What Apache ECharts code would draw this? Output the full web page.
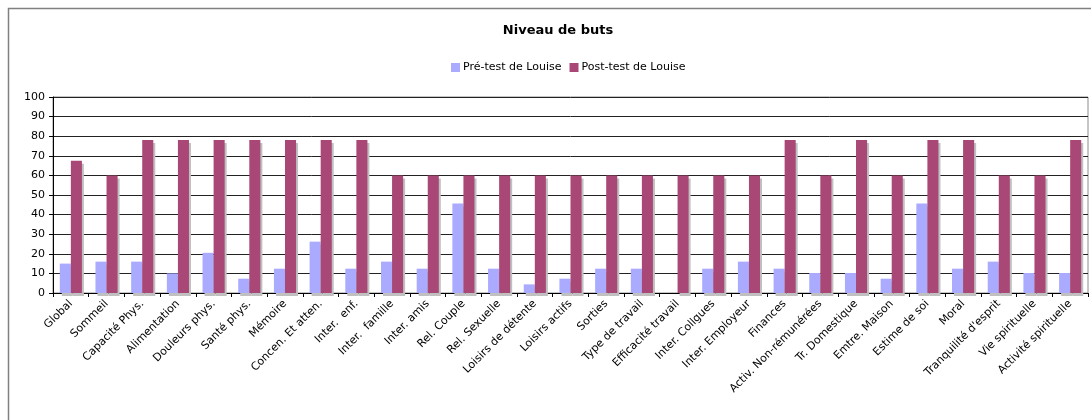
<!DOCTYPE html>
<html>
<head>
<meta charset="utf-8">
<script src="https://cdn.jsdelivr.net/npm/echarts@6/dist/echarts.min.js"></script>
<style>
  html, body { margin: 0; padding: 0; background: #fff; }
  #box01 { width: 1091px; height: 420px; }
</style>
</head>
<body>
<div id="box01"></div>
<script>
// categories (x axis)
var categories = ['Global', 'Sommeil', 'Capacité Phys.', 'Alimentation', 'Douleurs phys.', 'Santé phys.',
    'Mémoire', 'Concen. Et atten.', 'Inter.  enf.', 'Inter.  famille', 'Inter. amis', 'Rel. Couple',
    'Rel. Sexuelle', 'Loisirs de détente', 'Loisirs actifs', 'Sorties', 'Type de travail',
    'Efficacité travail', 'Inter. Collgues', 'Inter. Employeur', 'Finances', 'Activ. Non-rémunérées',
    'Tr. Domestique', 'Emtre. Maison', 'Estime de soi', 'Moral', "Tranquilité d'esprit",
    'Vie spirituelle', 'Activité spirituelle'];

// valeurs
var preTest = [15, 16, 16, 10, 20.5, 7.3, 12.4, 26.2, 12.4, 16, 12.4, 45.6, 12.4, 4.4, 7.3,
    12.4, 12.4, 0, 12.4, 16, 12.4, 10.2, 10.2, 7.3, 45.6, 12.4, 16, 10.2, 10.2];
var postTest = [67.5, 60, 78, 78, 78, 78, 78, 78, 78, 60, 60, 60, 60, 60, 60,
    60, 60, 60, 60, 60, 78, 60, 78, 60, 78, 78, 60, 60, 78];

var seriesNames = ['Pré-test de Louise', 'Post-test de Louise'];
var yTicks = [0, 100, 10]; // min, max, interval

var font = 'DejaVu Sans, Verdana, sans-serif';
var myChart = echarts.init(document.getElementById('box01'));

var option = {
    animation: false,
    backgroundColor: '#fff',
    textStyle: { fontFamily: font },
    title: {
        text: 'Niveau de buts',
        left: 553,
        textAlign: 'center',
        top: 19,
        textStyle: { fontSize: 13, fontWeight: 'bold', color: '#000', fontFamily: font }
    },
    legend: {
        data: seriesNames,
        left: 446,
        top: 57,
        itemWidth: 9,
        itemHeight: 9,
        itemGap: 8,
        icon: 'rect',
        textStyle: { fontSize: 11, color: '#000', fontFamily: font, padding: [0, 0, 0, -2] }
    },
    graphic: [{
        type: 'rect',
        shape: { x: 8.5, y: 8.5, width: 1200, height: 600 },
        style: { fill: null, stroke: '#808080', lineWidth: 1.5 },
        silent: true,
        z: -1
    }],
    grid: {
        left: 53,
        right: 3,
        top: 97,
        bottom: 127,
        show: true,
        borderColor: '#8c8c8c',
        borderWidth: 1,
        containLabel: false
    },
    xAxis: [{
        type: 'category',
        data: categories,
        axisLine: { lineStyle: { color: '#000' } },
        axisTick: { show: true, alignWithLabel: false, length: 4, lineStyle: { color: '#000' } },
        axisLabel: { rotate: 45, fontSize: 11, color: '#000', margin: 9, interval: 0, fontFamily: font }
    }],
    yAxis: [{
        type: 'value',
        min: yTicks[0],
        max: yTicks[1],
        interval: yTicks[2],
        axisLine: { show: true, lineStyle: { color: '#000' } },
        axisTick: { show: true, length: 4, lineStyle: { color: '#000' } },
        axisLabel: { fontSize: 11, color: '#000', margin: 8, fontFamily: font },
        splitLine: { lineStyle: { color: '#222', width: 1 } }
    }],
    series: [
        {
            name: seriesNames[0],
            type: 'bar',
            data: preTest,
            barGap: '0%',
            barCategoryGap: '38%',
            itemStyle: {
                color: '#aaaaff',
                shadowColor: '#c0c0c0', shadowOffsetX: 2, shadowOffsetY: 3, shadowBlur: 0
            }
        },
        {
            name: seriesNames[1],
            type: 'bar',
            data: postTest,
            barGap: '0%',
            barCategoryGap: '38%',
            itemStyle: {
                color: '#a94876',
                shadowColor: '#c0c0c0', shadowOffsetX: 2, shadowOffsetY: 3, shadowBlur: 0
            }
        }
    ]
};
myChart.setOption(option);
</script>
</body>
</html>
